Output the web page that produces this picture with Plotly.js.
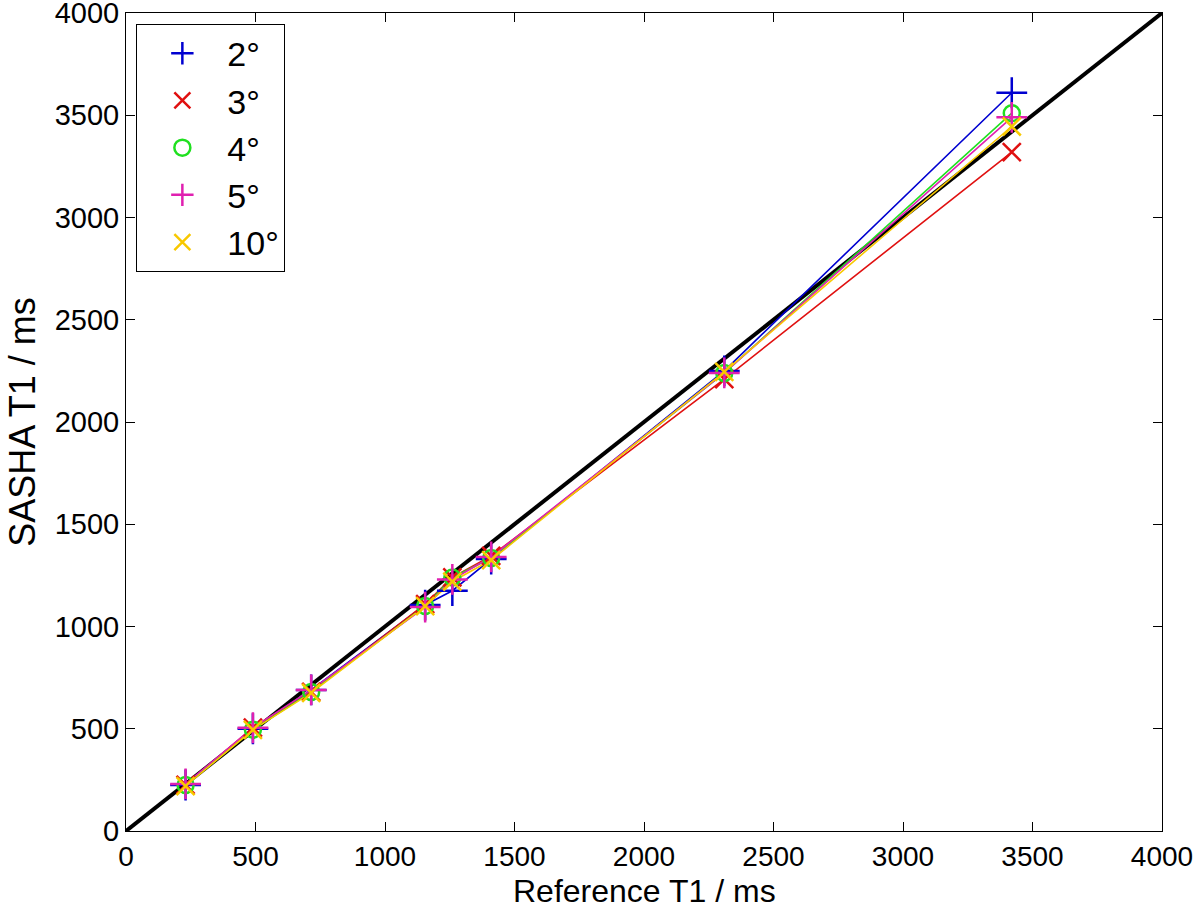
<!DOCTYPE html>
<html>
<head>
<meta charset="utf-8">
<script src="https://cdn.plot.ly/plotly-3.0.1.min.js"></script>
<style>html,body{margin:0;padding:0;background:#fff;}#chart{width:1200px;height:910px;}</style>
</head>
<body>
<div id="chart"></div>
<script>
var refT1 = [230, 490, 715, 1155, 1260, 1410, 2310, 3420];
var sasha2 = [225, 500, 690, 1105, 1175, 1330, 2250, 3610];
var sasha3 = [225, 505, 680, 1110, 1240, 1345, 2210, 3320];
var sasha4 = [225, 495, 680, 1100, 1240, 1335, 2240, 3510];
var sasha5 = [230, 505, 690, 1095, 1230, 1340, 2240, 3490];
var sasha10 = [220, 495, 675, 1100, 1220, 1325, 2245, 3445];
var seriesNames = ['2°', '3°', '4°', '5°', '10°'];
var identityX = [0, 4000];
var identityY = [0, 4000];
var xTitle = 'Reference T1 / ms';
var yTitle = 'SASHA T1 / ms';

var colors = ['#0000d0', '#e01010', '#20e020', '#e020b0', '#f8c800'];
var symbols = ['cross-thin-open', 'x-thin-open', 'circle-open', 'cross-thin-open', 'x-thin-open'];
var sizes = [22, 18, 16, 22, 18];
var allY = [sasha2, sasha3, sasha4, sasha5, sasha10];
var FONT = 'Liberation Sans, Arial, Helvetica, sans-serif';

var traces = [{
  x: identityX, y: identityY, mode: 'lines', type: 'scatter',
  line: {color: '#000000', width: 4}, showlegend: false, hoverinfo: 'skip'
}];
for (var i = 0; i < allY.length; i++) {
  traces.push({
    x: refT1, y: allY[i], mode: 'lines', type: 'scatter',
    line: {color: colors[i], width: 1.6}, showlegend: false, legendgroup: 'g' + i
  });
}
for (var i = 0; i < allY.length; i++) {
  traces.push({
    x: refT1, y: allY[i], mode: 'markers', type: 'scatter', name: seriesNames[i],
    marker: {symbol: symbols[i], size: sizes[i], color: colors[i], line: {color: colors[i], width: 2.5}},
    legendgroup: 'g' + i
  });
}

var axisCommon = {
  range: [0, 4000], dtick: 500, tick0: 0,
  showgrid: false, zeroline: false,
  showline: true, linecolor: '#000', linewidth: 1, mirror: 'ticks',
  ticks: 'inside', ticklen: 9, tickwidth: 1, tickcolor: '#000',
  tickfont: {family: FONT, size: 29, color: '#000'},
  ticklabeloverflow: 'allow',
  automargin: false
};
var xaxis = Object.assign({}, axisCommon, {tickfont: {family: FONT, size: 28, color: '#000'}});
var yaxis = Object.assign({}, axisCommon, {
  title: {text: yTitle, font: {family: FONT, size: 36, color: '#000'}, standoff: 8}
});

var layout = {
  width: 1200, height: 910,
  margin: {l: 126, r: 38, t: 13, b: 79},
  paper_bgcolor: '#fff', plot_bgcolor: '#fff',
  xaxis: xaxis, yaxis: yaxis,
  showlegend: true,
  legend: {
    x: 0.01, y: 0.987, xanchor: 'left', yanchor: 'top',
    bgcolor: '#fff', bordercolor: '#000', borderwidth: 1,
    font: {family: FONT, size: 34, color: '#000'},
    itemwidth: 80, tracegroupgap: 0
  },
  annotations: [{
    text: xTitle, xref: 'paper', yref: 'paper', x: 0.5, y: -0.0735,
    xanchor: 'center', yanchor: 'middle', showarrow: false,
    font: {family: FONT, size: 32, color: '#000'}
  }]
};
Plotly.newPlot('chart', traces, layout, {displayModeBar: false});
</script>
</body>
</html>
